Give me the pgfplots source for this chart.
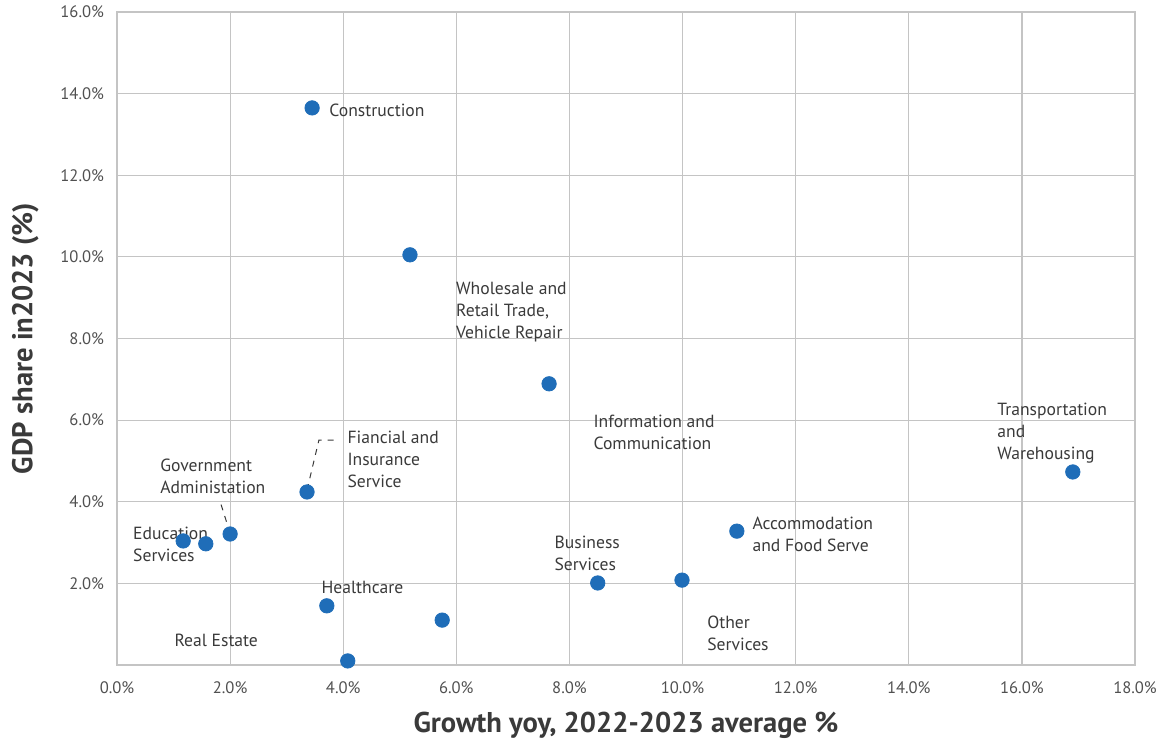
\documentclass[border=0pt]{standalone}
\usepackage{fontspec}
\setmainfont{PT Sans}
\usepackage{pgfplots}
\pgfplotsset{compat=1.18}
\definecolor{dotblue}{HTML}{1F6DB8}
\definecolor{gridgray}{HTML}{C4C4C4}
\definecolor{txt}{HTML}{3A3A3A}
\definecolor{ticktxt}{HTML}{505050}
\begin{document}
\begin{tikzpicture}
\useasboundingbox (0,0) rectangle (579.5pt,374.5pt);
\begin{axis}[
  at={(58.5pt,42pt)}, anchor=south west,
  width=509pt, height=326.5pt, scale only axis,
  xmin=0, xmax=18, ymin=0, ymax=16,
  xtick={0,2,...,18}, ytick={2,4,...,16},
  xticklabel={\pgfmathprintnumber[fixed,fixed zerofill,precision=1]{\tick}\%},
  yticklabel={\pgfmathprintnumber[fixed,fixed zerofill,precision=1]{\tick}\%},
  /pgf/number format/assume math mode=true,
  tick style={draw=none},
  ticklabel style={font=\fontsize{8.3}{10}\selectfont, text=ticktxt},
  xticklabel style={yshift=-5pt},
  yticklabel style={xshift=-3pt},
  grid=major, grid style={gridgray, line width=0.6pt},
  axis line style={gridgray, line width=0.6pt},
  xlabel={Growth yoy, 2022-2023 average \%},
  ylabel={GDP share in2023 (\%)},
  label style={font=\fontsize{14.3}{16}\selectfont\bfseries, text=txt},
  xlabel style={yshift=-2pt},
  ylabel style={yshift=4pt},
  clip=false,
]
\addplot[only marks, mark=*, mark size=3.6pt, mark options={draw=dotblue, fill=dotblue}] coordinates {
  (3.45,13.65) (5.18,10.05) (7.64,6.89) (16.90,4.73)
  (3.36,4.24) (2.00,3.21) (1.17,3.04) (1.57,2.97)
  (10.96,3.28) (8.50,2.01) (9.99,2.08) (3.71,1.45)
  (5.75,1.10) (4.08,0.10)
};
% leader lines
\draw[dashed, txt, line width=0.5pt] (axis cs:3.36,4.29) -- (axis cs:3.57,5.51) -- (axis cs:3.85,5.51);
\draw[dashed, txt, line width=0.5pt] (axis cs:2.0,3.23) -- (axis cs:1.82,4.02);
% category labels
\begin{scope}[every node/.style={anchor=west, align=left, inner sep=0pt, text=txt, font=\fontsize{8.8}{11}\selectfont}]
\node at (axis cs:3.75,13.60) {Construction};
\node at (axis cs:5.99,8.64) {Wholesale and\\Retail Trade,\\Vehicle Repair};
\node at (axis cs:8.42,5.70) {Information and\\Communication};
\node at (axis cs:15.56,5.67) {Transportation\\and\\Warehousing};
\node at (axis cs:4.07,5.03) {Fiancial and\\Insurance\\Service};
\node at (axis cs:0.76,4.62) {Government\\Administation};
\node at (axis cs:0.28,2.95) {Education\\Services};
\node at (axis cs:11.23,3.20) {Accommodation\\and Food Serve};
\node at (axis cs:7.73,2.73) {Business\\Services};
\node at (axis cs:10.43,0.77) {Other\\Services};
\node at (axis cs:3.61,1.90) {Healthcare};
\node at (axis cs:1.01,0.60) {Real Estate};
\end{scope}
\end{axis}
\end{tikzpicture}
\end{document}
